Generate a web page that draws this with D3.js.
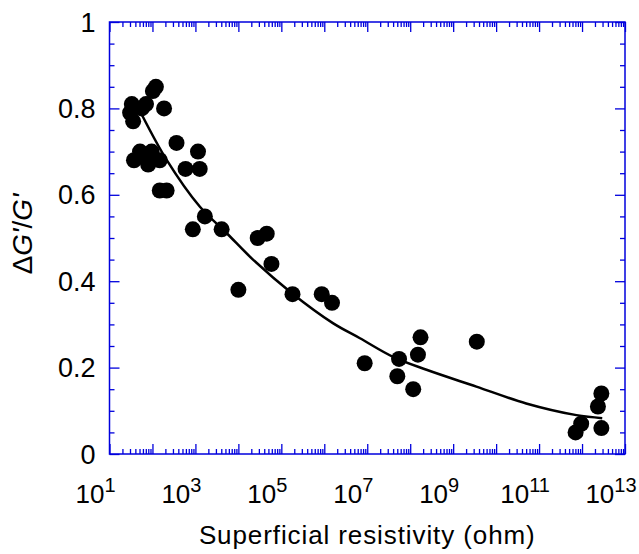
<!DOCTYPE html>
<html>
<head>
<meta charset="utf-8">
<script src="https://cdn.jsdelivr.net/npm/d3@7"></script>
<style>
  body { margin: 0; background: #fff; }
  text { font-family: "Liberation Sans", Arial, Helvetica, sans-serif; fill: #000; }
</style>
</head>
<body>
<div id="chart"></div>
<script>
// measured points: log10 of resistivity (ohm) and dG'/G'
var logR = [1.52, 1.48, 1.55, 1.85, 1.75, 2.01, 2.08, 2.27, 2.56, 3.06, 3.10, 2.77,
            3.22, 2.94, 3.61, 4.45, 4.66, 2.17, 2.33, 1.57, 1.71, 1.87, 1.90, 1.98,
            2.17, 4.77, 4.00, 5.26, 5.94, 6.18, 6.94, 7.74, 7.70, 8.07, 8.18, 8.24,
            9.55, 11.85, 11.98, 12.37, 12.45, 12.45];
var dG   = [0.81, 0.79, 0.77, 0.81, 0.80, 0.84, 0.85, 0.80, 0.72, 0.70, 0.66, 0.66,
            0.55, 0.52, 0.52, 0.50, 0.51, 0.61, 0.61, 0.68, 0.70, 0.69, 0.67, 0.70,
            0.68, 0.44, 0.38, 0.37, 0.37, 0.35, 0.21, 0.22, 0.18, 0.15, 0.23, 0.27,
            0.26, 0.05, 0.07, 0.11, 0.14, 0.06];

// fitted curve
var fitLogR = [1.75, 2.33, 3.10, 3.73, 4.34, 5.26, 6.20, 6.83, 7.60, 8.38, 9.54, 10.70, 11.87, 12.47];
var fitVal  = [0.786, 0.681, 0.573, 0.511, 0.450, 0.371, 0.303, 0.268, 0.225, 0.195, 0.156, 0.117, 0.090, 0.083];

var xLabelExps = [1, 3, 5, 7, 9, 11, 13];
var yLabels = [0, 0.2, 0.4, 0.6, 0.8, 1];

var W = 639, H = 554;
var margin = {top: 22, right: 14, bottom: 100, left: 109.5};
var width = W - margin.left - margin.right,
    height = H - margin.top - margin.bottom;
var axisColor = "#0000dd";

var svg = d3.select("#chart").append("svg")
    .attr("width", W)
    .attr("height", H);

var g = svg.append("g")
    .attr("transform", "translate(" + margin.left + "," + margin.top + ")");

var x = d3.scaleLog().domain([1e1, 1e13]).range([0, width]);
var y = d3.scaleLinear().domain([0, 1]).range([height, 0]);

// ticks: decades (long) and 2..9 (short), y every 0.05 with long at 0.2
var xMajor = d3.range(1, 14).map(function(e) { return Math.pow(10, e); });
var xMinor = [];
for (var e = 1; e < 13; e++) {
  for (var m = 2; m <= 9; m++) xMinor.push(m * Math.pow(10, e));
}
var yMinor = d3.range(0, 21).map(function(i) { return i * 0.05; })
  .filter(function(v) { return Math.abs(v * 5 - Math.round(v * 5)) > 1e-6; });

function tickAxis(axisFn, scale, vals, len) {
  return axisFn(scale).tickValues(vals).tickSizeInner(-len).tickSizeOuter(0).tickFormat("");
}

var axes = [
  {fn: d3.axisBottom, s: x, t: "translate(0," + height + ")"},
  {fn: d3.axisTop, s: x, t: "translate(0,0)"},
  {fn: d3.axisLeft, s: y, t: "translate(0,0)"},
  {fn: d3.axisRight, s: y, t: "translate(" + width + ",0)"}
];
axes.forEach(function(a) {
  var isX = a.s === x;
  var major = isX ? xMajor : yLabels;
  var minor = isX ? xMinor : yMinor;
  [[minor, 5], [major, 10]].forEach(function(p) {
    var ag = g.append("g").attr("transform", a.t)
      .call(tickAxis(a.fn, a.s, p[0], p[1]));
    ag.select(".domain").remove();
    ag.selectAll("line").attr("stroke", axisColor).attr("stroke-width", 1.3);
  });
});

// frame
g.append("rect")
  .attr("width", width).attr("height", height)
  .attr("fill", "none")
  .attr("stroke", axisColor)
  .attr("stroke-width", 1.5);

// x tick labels 10^n
var xl = g.selectAll(".xlab").data(xLabelExps).enter().append("text")
  .attr("class", "xlab")
  .attr("x", function(d) { return x(Math.pow(10, d)) - 14; })
  .attr("y", height + 49)
  .attr("text-anchor", "middle")
  .style("font-size", "26px");
xl.append("tspan").text("10");
xl.append("tspan").attr("dy", -11).style("font-size", "20px").text(function(d) { return d; });

// y tick labels
g.selectAll(".ylab").data(yLabels).enter().append("text")
  .attr("class", "ylab")
  .attr("x", -14)
  .attr("y", function(d) { return y(d) + 9.5; })
  .attr("text-anchor", "end")
  .style("font-size", "27px")
  .text(function(d) { return d === 0 || d === 1 ? d : d.toFixed(1); });

// axis titles
svg.append("text")
  .attr("x", margin.left + width / 2)
  .attr("y", 544)
  .attr("text-anchor", "middle")
  .style("font-size", "26px")
  .style("letter-spacing", "0.9px")
  .text("Superficial resistivity (ohm)");

var yt = svg.append("text")
  .attr("transform", "translate(32,234) rotate(-90)")
  .attr("text-anchor", "middle")
  .style("font-size", "28px");
yt.append("tspan").text("\u0394");
yt.append("tspan").style("font-style", "italic").text("G'");
yt.append("tspan").text("/");
yt.append("tspan").style("font-style", "italic").text("G'");

// fit line
var fit = fitLogR.map(function(v, i) { return [Math.pow(10, v), fitVal[i]]; });
var line = d3.line()
  .x(function(d) { return x(d[0]); })
  .y(function(d) { return y(d[1]); })
  .curve(d3.curveCatmullRom);
g.append("path")
  .datum(fit)
  .attr("d", line)
  .attr("fill", "none")
  .attr("stroke", "#000")
  .attr("stroke-width", 2.5);

// dots
var pts = logR.map(function(v, i) { return {r: Math.pow(10, v), v: dG[i]}; });
g.selectAll(".dot").data(pts).enter().append("circle")
  .attr("class", "dot")
  .attr("cx", function(d) { return x(d.r); })
  .attr("cy", function(d) { return y(d.v); })
  .attr("r", 8)
  .attr("fill", "#000");
</script>
</body>
</html>
